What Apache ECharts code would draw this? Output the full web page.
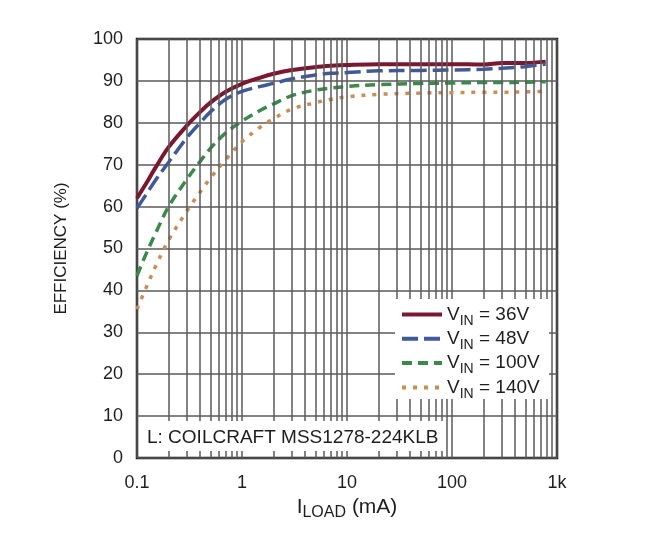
<!DOCTYPE html>
<html>
<head>
<meta charset="utf-8">
<script src="https://cdn.jsdelivr.net/npm/echarts@6/dist/echarts.min.js"></script>
<style>
html,body{margin:0;padding:0;background:#fff;}
#chart{width:650px;height:559px;}
</style>
</head>
<body>
<div id="chart"></div>
<script>
// ---- data ----
var loadCurrent = [0.1, 0.12, 0.15, 0.2, 0.3, 0.4, 0.5, 0.7, 1, 1.5, 2, 3, 5, 7, 10, 20, 50, 100, 200, 300, 500, 780];
var eff36V  = [62.0, 65.2, 69.3, 74.2, 79.4, 82.6, 84.8, 87.4, 89.3, 90.8, 91.7, 92.6, 93.3, 93.6, 93.8, 94.0, 94.0, 94.0, 93.9, 94.3, 94.3, 94.6];
var eff48V  = [59.6, 62.6, 66.3, 70.6, 76.5, 80.0, 82.6, 85.6, 87.5, 88.7, 89.4, 90.5, 91.4, 91.8, 92.0, 92.4, 92.5, 92.6, 92.8, 93.0, 93.4, 94.0];
var eff100V = [43.5, 48.3, 53.6, 60.0, 66.6, 70.8, 73.9, 77.6, 80.4, 83.0, 84.5, 86.5, 87.8, 88.3, 88.7, 89.1, 89.4, 89.5, 89.6, 89.6, 89.7, 89.8];
var eff140V = [35.5, 40.2, 45.7, 52.0, 59.0, 63.5, 66.8, 71.2, 75.5, 79.0, 81.0, 83.3, 84.8, 85.6, 86.2, 86.8, 87.1, 87.2, 87.3, 87.3, 87.4, 87.5];
var seriesNames = ['36V', '48V', '100V', '140V'];
var xTickLabels = {'0.1': '0.1', '1': '1', '10': '10', '100': '100', '1000': '1k'};
var decades = [0.1, 1, 10, 100];
var minorMultiples = [2, 3, 4, 5, 6, 7, 8, 9];
var noteText = 'L: COILCRAFT MSS1278-224KLB';

function pairs(ys) { return loadCurrent.map(function (x, i) { return [x, ys[i]]; }); }

var gridLines = [];
decades.forEach(function (d) {
  minorMultiples.forEach(function (m) { gridLines.push({xAxis: +(d * m).toPrecision(3)}); });
});

var FONT = "'Liberation Sans', Arial, sans-serif";
var TXT = '#1e1e1e';
var colors = ['#7a1830', '#3f5a9c', '#3b8a4c', '#c98e55'];
var dashes = ['solid', [16, 6], [10, 6], [4, 7]];
var widths = [4, 3.5, 3.5, 3.5];
var datasets = [eff36V, eff48V, eff100V, eff140V];

var series = [{
  name: 'grid', type: 'line', data: [], z: 1, silent: true,
  markLine: {
    silent: true, symbol: 'none', animation: false,
    label: {show: false},
    lineStyle: {color: '#5a5a5a', width: 1.5, type: 'solid'},
    data: gridLines
  }
}];
datasets.forEach(function (ys, i) {
  series.push({
    name: seriesNames[i], type: 'line', data: pairs(ys), z: 3,
    showSymbol: false, symbol: 'none', smooth: 0.35, animation: false,
    lineStyle: {color: colors[i], width: widths[i], type: dashes[i], cap: 'butt'},
    itemStyle: {color: colors[i]}
  });
});

var chart = echarts.init(document.getElementById('chart'), null, {renderer: 'canvas'});
chart.setOption({
  backgroundColor: '#fff',
  animation: false,
  grid: {left: 137, right: 93, top: 39, bottom: 101, show: true, borderColor: '#111', borderWidth: 2.5, backgroundColor: 'transparent'},
  xAxis: {
    type: 'log', logBase: 10, min: 0.1, max: 1000,
    axisLine: {show: false}, axisTick: {show: false},
    splitLine: {show: true, lineStyle: {color: '#5a5a5a', width: 1.5}},
    axisLabel: {
      fontFamily: FONT, fontSize: 18, color: TXT, margin: 16,
      formatter: function (v) { var k = String(+v.toPrecision(3)); return xTickLabels[k] !== undefined ? xTickLabels[k] : ''; }
    },
    name: '{m|I}{s|LOAD}{m| (mA)}', nameLocation: 'middle', nameGap: 36,
    nameTextStyle: {
      fontFamily: FONT, color: TXT,
      rich: {
        m: {fontFamily: FONT, fontSize: 21, color: TXT, lineHeight: 26},
        s: {fontFamily: FONT, fontSize: 16, color: TXT, lineHeight: 15, verticalAlign: 'bottom'}
      }
    }
  },
  yAxis: {
    type: 'value', min: 0, max: 100, interval: 10,
    axisLine: {show: false}, axisTick: {show: false},
    splitLine: {show: true, lineStyle: {color: '#5a5a5a', width: 1.5}},
    axisLabel: {fontFamily: FONT, fontSize: 18, color: TXT, margin: 14},
    name: 'EFFICIENCY (%)', nameLocation: 'middle', nameGap: 67,
    nameTextStyle: {fontFamily: FONT, fontSize: 17, color: TXT}
  },
  legend: {
    data: seriesNames, orient: 'vertical', left: 395, top: 300, z: 60,
    itemWidth: 40, itemHeight: 14, itemGap: 1.3,
    itemStyle: {opacity: 0},
    lineStyle: {width: 4},
    formatter: function (n) { return '{v|V}{s|IN}{v| = ' + n + '}'; },
    textStyle: {
      fontFamily: FONT, color: TXT,
      rich: {
        v: {fontFamily: FONT, fontSize: 19, color: TXT, lineHeight: 27},
        s: {fontFamily: FONT, fontSize: 14, color: TXT, lineHeight: 15, verticalAlign: 'bottom'}
      }
    }
  },
  graphic: [
    {type: 'rect', z: 50, silent: true, shape: {x: 395, y: 299, width: 154, height: 100}, style: {fill: '#fff'}},
    {type: 'rect', z: 50, silent: true, shape: {x: 139, y: 421, width: 305, height: 30}, style: {fill: '#fff'}},
    {type: 'text', z: 60, silent: true, x: 147, y: 438,
      style: {text: noteText, font: '19px ' + FONT, fill: TXT, textVerticalAlign: 'middle', verticalAlign: 'middle'}}
  ],
  series: series
});
</script>
</body>
</html>
